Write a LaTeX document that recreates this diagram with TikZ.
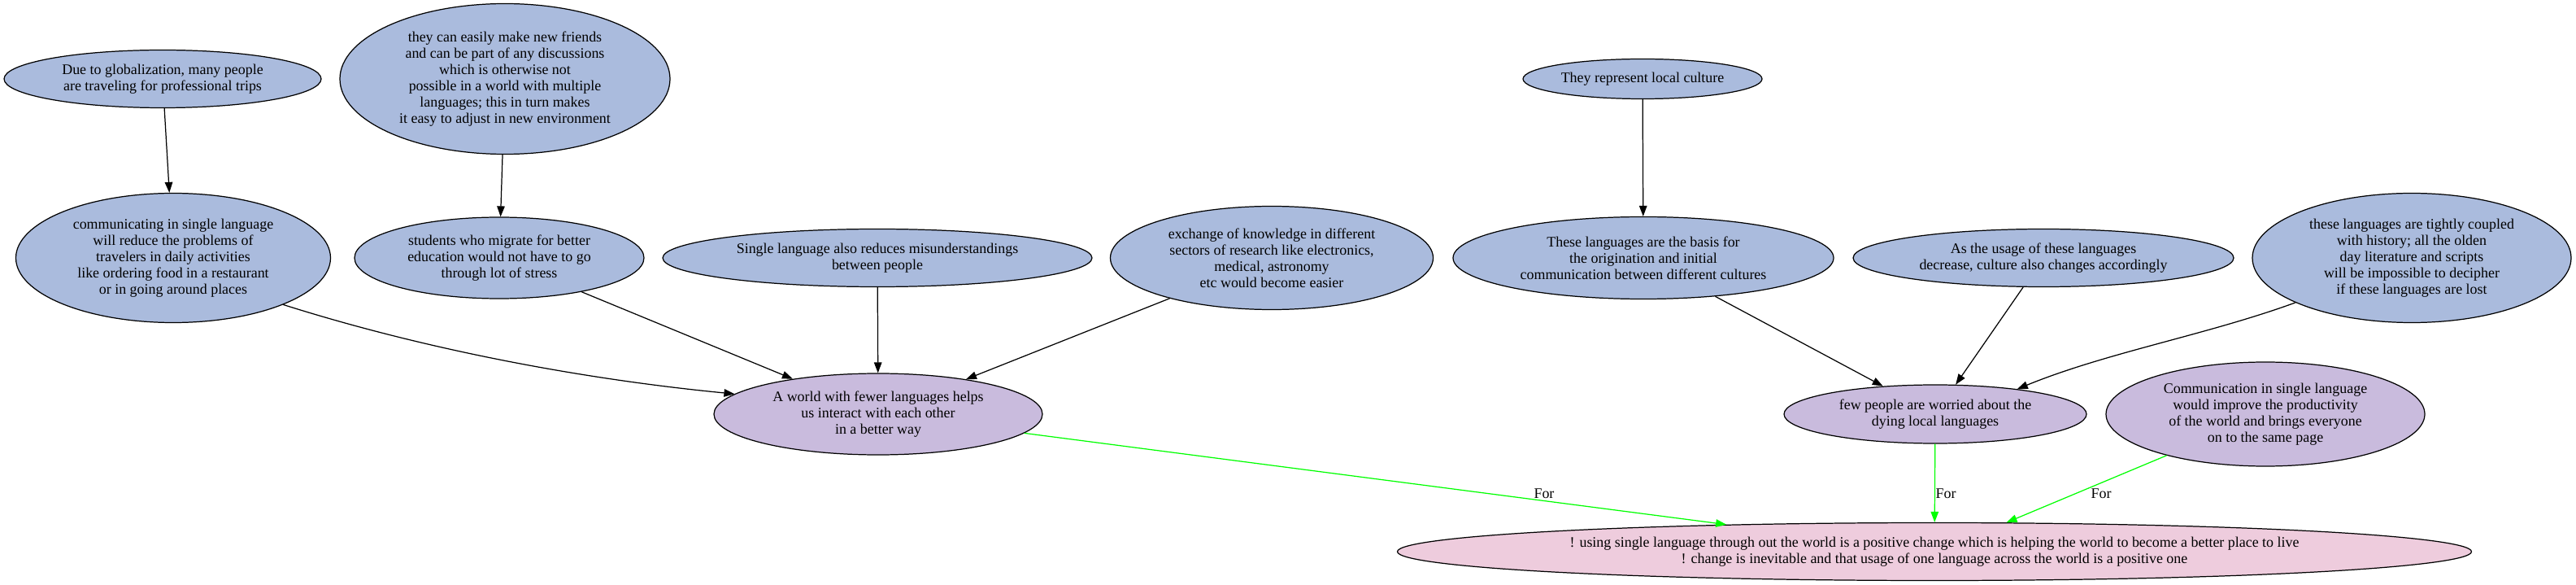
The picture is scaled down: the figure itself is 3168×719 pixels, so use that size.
\documentclass[tikz,border=0pt]{standalone}
\usepackage{fontspec}
\setmainfont{Liberation Serif}
\usetikzlibrary{shapes.geometric, arrows.meta}
\definecolor{nblue}{HTML}{AABBDD}
\definecolor{npurple}{HTML}{C9BBDD}
\definecolor{npink}{HTML}{EECCDD}
\definecolor{ngreen}{HTML}{00FF00}
\begin{document}
\begin{tikzpicture}[x=0.02cm, y=-0.02cm,
  base/.style={ellipse, draw=black, line width=0.7pt, inner sep=0pt, align=center, font=\fontsize{10.2}{11.4}\selectfont},
  pro/.style={base, fill=nblue},
  sub/.style={base, fill=npurple},
  claimbox/.style={base, fill=npink},
  sz/.style 2 args={minimum width=#1*0.02cm, minimum height=#2*0.02cm},
  link/.style={draw=black, line width=0.7pt, -{Triangle[length=0.26cm, width=0.19cm]}},
  forlink/.style={draw=ngreen, line width=0.7pt, -{Triangle[length=0.26cm, width=0.19cm]}},
  lab/.style={font=\fontsize{10.2}{11.4}\selectfont, inner sep=0pt}
]
\path[use as bounding box] (0,0) rectangle (3168,719);

\node[pro, sz={390}{71}] (due) at (200,97) {Due to globalization, many people\\are traveling for professional trips};
\node[pro, sz={406}{185}] (friends) at (621,97) {they can easily make new friends\\and can be part of any discussions\\which is otherwise not\\possible in a world with multiple\\languages; this in turn makes\\it easy to adjust in new environment};
\node[pro, sz={387}{159}] (comm) at (213,317) {communicating in single language\\will reduce the problems of\\travelers in daily activities\\like ordering food in a restaurant\\or in going around places};
\node[pro, sz={356}{100}] (students) at (614,317) {students who migrate for better\\education would not have to go\\through lot of stress};
\node[pro, sz={528}{71}] (single) at (1079,317) {Single language also reduces misunderstandings\\between people};
\node[pro, sz={397}{127}] (exchange) at (1564,317) {exchange of knowledge in different\\sectors of research like electronics,\\medical, astronomy\\etc would become easier};
\node[pro, sz={294}{49}] (culture) at (2020,97) {They represent local culture};
\node[pro, sz={468}{101}] (basis) at (2021,317) {These languages are the basis for\\the origination and initial\\communication between different cultures};
\node[pro, sz={468}{71}] (usage) at (2513,317) {As the usage of these languages\\decrease, culture also changes accordingly};
\node[pro, sz={392}{159}] (history) at (2966,317) {these languages are tightly coupled\\with history; all the olden\\day literature and scripts\\will be impossible to decipher\\if these languages are lost};
\node[sub, sz={404}{100}] (world) at (1080,509) {A world with fewer languages helps\\us interact with each other\\in a better way};
\node[sub, sz={372}{72}] (few) at (2380,509) {few people are worried about the\\dying local languages};
\node[sub, sz={392}{128}] (prod) at (2786,509) {Communication in single language\\would improve the productivity\\of the world and brings everyone\\on to the same page};
\node[claimbox, sz={1321}{71}] (claim) at (2379,678) {! using single language through out the world is a positive change which is helping the world to become a better place to live\\! change is inevitable and that usage of one language across the world is a positive one};

\draw[link] (due) -- (comm);
\draw[link] (friends) -- (students);
\draw[link] (culture) -- (basis);
\draw[link] (comm.337.9) .. controls +(177,56) and +(-185,-18) .. (world.172.6);
\draw[link] (students) -- (world);
\draw[link] (single) -- (world);
\draw[link] (exchange) -- (world);
\draw[link] (basis) -- (few);
\draw[link] (usage) -- (few);
\draw[link] (history.201.6) .. controls +(-110,40) and +(110,-45) .. (few.17.7);

\draw[forlink] (world) -- (claim);
\draw[forlink] (few) -- (claim);
\draw[forlink] (prod) -- (claim.22);

\node[lab] (for1) at (1899,607) {For};
\node[lab] (for2) at (2393,607) {For};
\node[lab] (for3) at (2584,607) {For};
\end{tikzpicture}
\end{document}
